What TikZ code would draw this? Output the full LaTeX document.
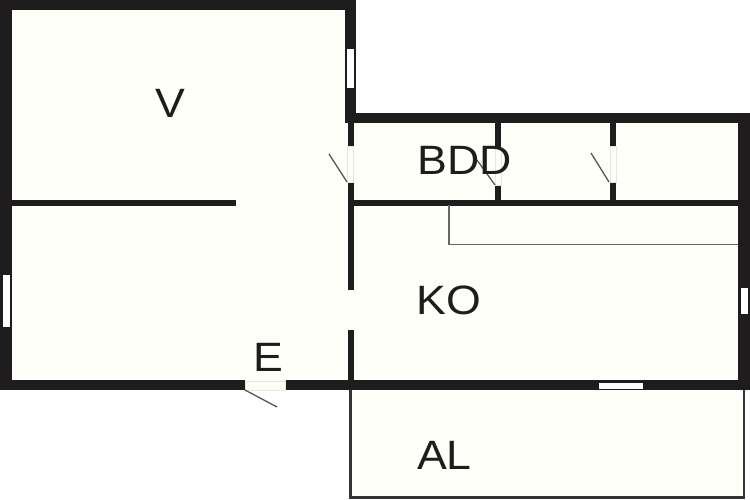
\documentclass[tikz,border=0pt]{standalone}
\usepackage{fontspec}
\setmainfont{Liberation Sans}
\definecolor{floorc}{HTML}{FFFFFA}
\definecolor{wallc}{HTML}{1E1C1C}
\definecolor{thinc}{HTML}{666666}
\definecolor{faintc}{HTML}{E6E6E0}
\tikzset{
  x=1pt,y=-1pt,
  wall/.style={fill=wallc,draw=none},
  floorarea/.style={fill=floorc,draw=none},
  glass/.style={fill=white,draw=none},
  gap/.style={fill=floorc,draw=faintc,line width=0.7pt},
  leaf/.style={draw=thinc!85!black,line width=1.3pt},
  thinline/.style={draw=thinc,line width=1.2pt},
  label/.style={font=\fontsize{41}{41}\selectfont,text=wallc,inner sep=0pt,xscale=1.09,transform shape,anchor=center}
}
\begin{document}
\begin{tikzpicture}
\useasboundingbox (0,0) rectangle (750,500);
\fill[white] (0,0) rectangle (750,500);
% floors
\path[floorarea] (6,5) -- (350,5) -- (350,118) -- (744,118) -- (744,385) -- (6,385) -- cycle;
% balcony
\path[floorarea] (350,388) rectangle (744,498);
\draw[draw=wallc!90!white,line width=2.4pt] (350.5,388) -- (350.5,497.5) -- (743.8,497.5) -- (743.8,388);
% outer walls
\path[wall] (0,0) rectangle (356,10);
\path[wall] (0,0) rectangle (12,390);
\path[wall] (345,0) rectangle (356,123);
\path[wall] (345,113) rectangle (750,123);
\path[wall] (738,113) rectangle (750,390);
\path[wall] (0,380) rectangle (245,390);
\path[wall] (286,380) rectangle (750,390);
% partitions
\path[wall] (12,199.5) rectangle (236,205.5);
\path[wall] (347.5,123) rectangle (353.5,146);
\path[wall] (347.5,182) rectangle (353.5,290);
\path[wall] (347.5,330) rectangle (353.5,380);
\path[wall] (353,199.5) rectangle (738,205.5);
\path[wall] (495,123) rectangle (501,147);
\path[wall] (495,185) rectangle (501,200);
\path[wall] (610,123) rectangle (616,146);
\path[wall] (610,182) rectangle (616,200);
% door gaps
\path[gap] (347.5,146) rectangle (353.5,182);
\path[gap] (495,147) rectangle (501,185);
\path[gap] (610,146) rectangle (616,182);
% windows
\path[glass] (346.5,49) rectangle (354,88.5);
\path[glass] (2.5,275) rectangle (10,327);
\path[glass] (740.5,288) rectangle (747.5,314);
\path[glass] (598.5,382.5) rectangle (643,388.5);
% entrance threshold
\path[gap] (245,381) rectangle (285.5,390.5);
% door leaves
\draw[leaf] (347,182) -- (329,154);
\draw[leaf] (495,185) -- (477,160);
\draw[leaf] (609,182) -- (591,153);
\draw[leaf] (245,390) -- (277,407);
% thin line
\draw[thinline] (449,205) -- (449,244.7) -- (738,244.7);
% labels
\node[label] (v) at (170,103) {V};
\node[label] (bdd) at (464.5,160) {BDD};
\node[label] (ko) at (448.5,300.5) {KO};
\node[label] (e) at (268,357) {E};
\node[label] (al) at (444.5,455.5) {AL};
\end{tikzpicture}
\end{document}
